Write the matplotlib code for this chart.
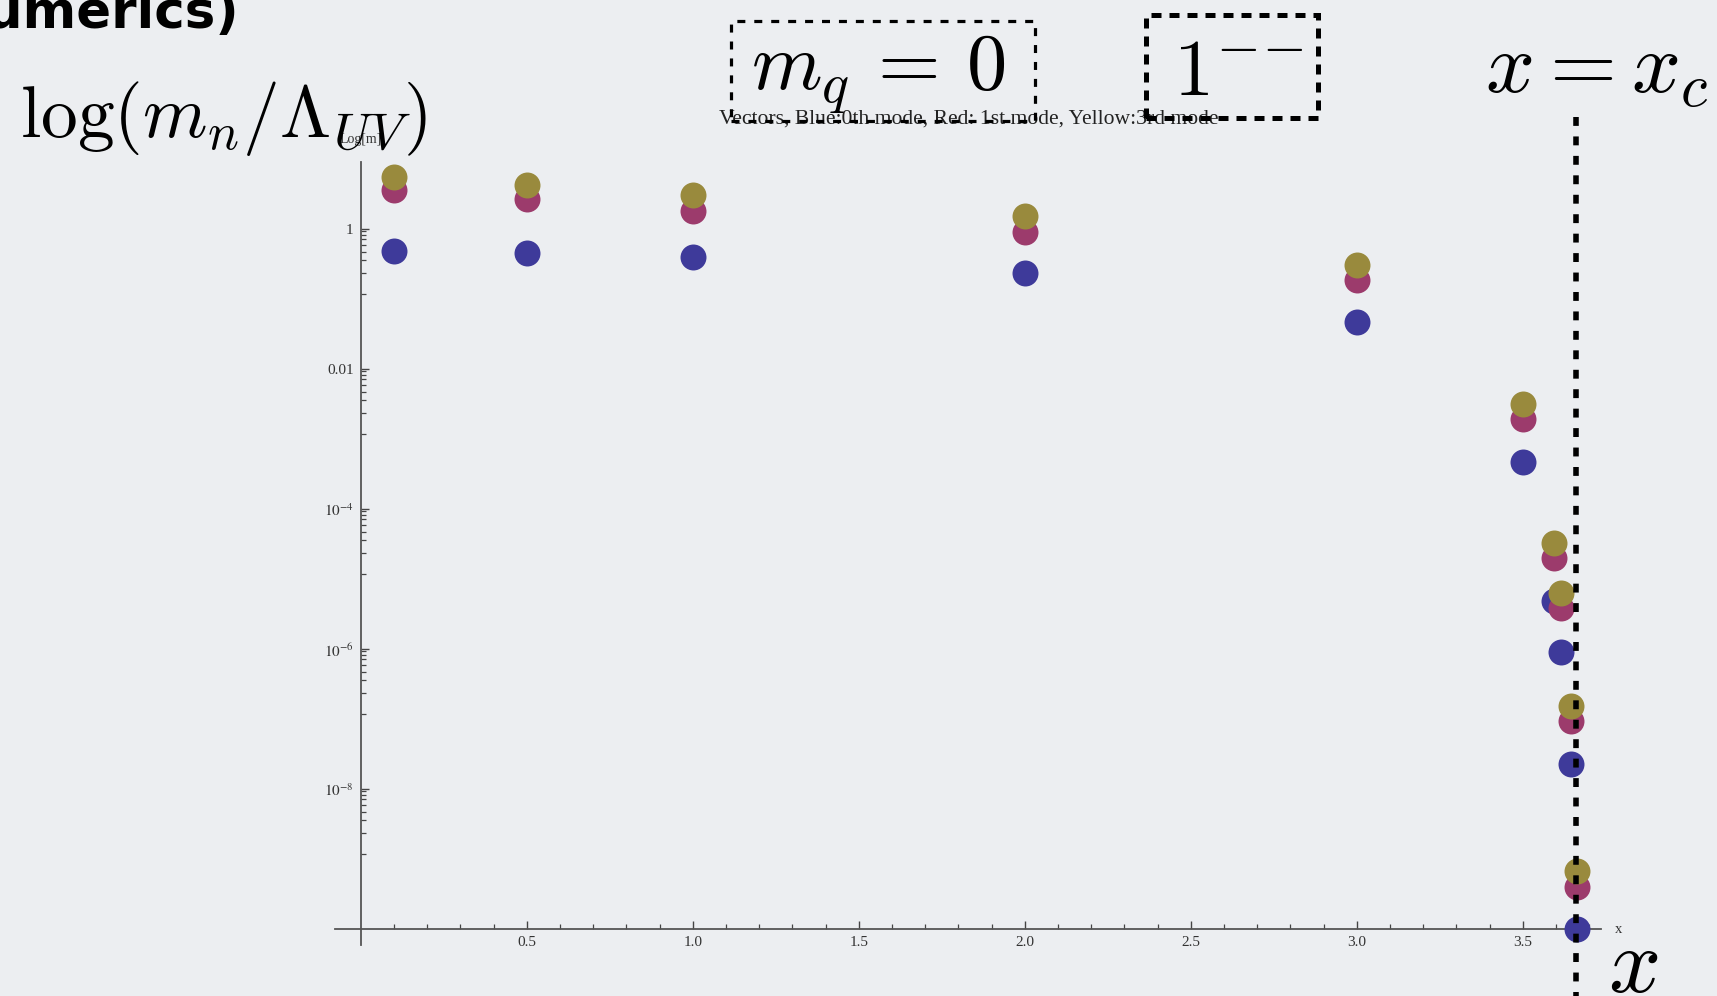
import matplotlib
matplotlib.use("Agg")
import matplotlib.pyplot as plt
from matplotlib.patches import Rectangle
import numpy as np

# ---------------- data ----------------
x_vals = [0.1, 0.5, 1.0, 2.0, 3.0, 3.5, 3.595, 3.615, 3.645, 3.663]
blue_vals = [0.490, 0.463, 0.407, 0.235, 0.0479, 4.72e-4, 4.94e-6, 9.25e-7, 2.29e-8, 1.0e-10]
red_vals = [3.64, 2.71, 1.82, 0.925, 0.189, 1.92e-3, 2.0e-5, 3.85e-6, 9.55e-8, 4.07e-10]
yellow_vals = [5.53, 4.30, 3.09, 1.55, 0.309, 3.19e-3, 3.27e-5, 6.31e-6, 1.55e-7, 6.81e-10]
x_c = 3.661

x_major = [0.5, 1.0, 1.5, 2.0, 2.5, 3.0, 3.5]
x_major_labels = ["0.5", "1.0", "1.5", "2.0", "2.5", "3.0", "3.5"]
y_major = [1.0, 1e-2, 1e-4, 1e-6, 1e-8]
y_major_labels = ["1", "0.01", r"$10^{-4}$", r"$10^{-6}$", r"$10^{-8}$"]

title_text = "Vectors, Blue:0th mode, Red: 1st mode, Yellow:3rd mode"

# ---------------- style ----------------
BG = "#eceef1"
BLUE = "#3e3a9a"
RED = "#9c3b6c"
YELLOW = "#998a3d"

plt.rcParams["mathtext.fontset"] = "stix"

W, H = 1717, 996
fig = plt.figure(figsize=(W / 100, H / 100), dpi=100, facecolor=BG)

def fx(px):
    return px / W

def fy(py):
    return 1 - py / H

# axes fills figure; data mapping: x=0 at px 360.7, 332 px/unit; log y = 0 at px 229.3, 70 px/decade
X0, XS = 360.7, 332.0
Y0, YS = 229.3, 70.0
ax = fig.add_axes([0, 0, 1, 1])
ax.set_facecolor(BG)
ax.set_xlim(-X0 / XS, (W - X0) / XS)
ax.set_yscale("log")
ax.set_ylim(10 ** ((Y0 - H) / YS), 10 ** (Y0 / YS))

for s in ["top", "right"]:
    ax.spines[s].set_visible(False)
ax.spines["left"].set_position(("data", 0.0))
ax.spines["bottom"].set_position(("data", 1e-10))
ax.spines["left"].set_bounds(10 ** ((Y0 - 945) / YS), 10 ** ((Y0 - 161.7) / YS))
ax.spines["bottom"].set_bounds(-0.078, 3.737)
for s in ["left", "bottom"]:
    ax.spines[s].set_color("#555555")
    ax.spines[s].set_linewidth(1.3)

ax.set_xticks(x_major)
ax.set_xticklabels(x_major_labels, fontfamily="Liberation Serif", fontsize=11, color="#333333")
x_minor = [round(0.1 * k, 1) for k in range(1, 38) if k % 5 != 0]
ax.set_xticks(x_minor, minor=True)

ax.set_yticks(y_major)
ax.set_yticklabels(y_major_labels, fontfamily="Liberation Serif", fontsize=11, color="#333333")
y_minor = [m * 0.12 * k for m in y_major for k in range(1, 9)]
ax.set_yticks(y_minor, minor=True)
ax.yaxis.set_minor_formatter(plt.NullFormatter())
ax.xaxis.set_minor_formatter(plt.NullFormatter())

ax.tick_params(which="major", direction="in", length=6, width=1.0, color="#444444", pad=5)
ax.tick_params(which="minor", direction="in", length=3.5, width=0.9, color="#444444")

# points
ms = 18.7
ax.plot(x_vals, blue_vals, "o", ms=ms, mew=0, color=BLUE, zorder=3, clip_on=False)
ax.plot(x_vals, red_vals, "o", ms=ms, mew=0, color=RED, zorder=3.1, clip_on=False)
ax.plot(x_vals, yellow_vals, "o", ms=ms, mew=0, color=YELLOW, zorder=3.2, clip_on=False)

# x = x_c dashed line
ax.plot([x_c, x_c], [10 ** ((Y0 - 117) / YS), 10 ** ((Y0 - H - 5) / YS)], color="black",
        lw=4.0, ls=(0, (1.6, 1.9)), zorder=5, clip_on=False)

# axis labels (Mathematica style)
fig.text(fx(361), fy(140), "Log[m]", ha="center", va="center",
         fontfamily="Liberation Serif", fontsize=10, color="#333333")
fig.text(fx(1619), fy(929), "x", ha="center", va="center",
         fontfamily="Liberation Serif", fontsize=10.5, color="#333333")

# plot title
fig.text(fx(969), fy(119), title_text, ha="center", va="center",
         fontfamily="Liberation Serif", fontsize=15.6, color="#222222")

# slide texts
fig.text(fx(239), fy(28), "(numerics)", ha="right", va="baseline",
         fontfamily="DejaVu Sans", fontweight="bold", fontsize=37, color="black")
fig.text(fx(20), fy(137), r"$\log(m_n/\Lambda_{UV})$", ha="left", va="baseline",
         fontsize=53, math_fontfamily="cm", color="black")
fig.text(fx(1005), fy(89), r"$m_q\,=\,0$", ha="right", va="baseline",
         fontsize=58, math_fontfamily="cm", color="black")
fig.text(fx(1303), fy(95), r"$1^{-\!-}$", ha="right", va="baseline",
         fontsize=58, math_fontfamily="cm", color="black")
fig.text(fx(1708), fy(92), r"$x=x_c$", ha="right", va="baseline",
         fontsize=62, math_fontfamily="cm", color="black")
fig.text(fx(1633), fy(992), r"$x$", ha="center", va="baseline",
         fontsize=66, math_fontfamily="cm", color="black")

# dashed boxes
def box(x0, y0, x1, y1, lw, ls):
    r = Rectangle((fx(x0), fy(y1)), fx(x1) - fx(x0), fy(y0) - fy(y1),
                  transform=fig.transFigure, fill=False, edgecolor="black",
                  lw=lw, ls=ls, zorder=6)
    fig.add_artist(r)

box(731, 21, 1035, 121, 2.3, (0, (2.5, 2.8)))
box(1146, 15, 1318, 118, 3.6, (0, (2.0, 1.6)))

fig.savefig("out.png", dpi=100, facecolor=BG)
